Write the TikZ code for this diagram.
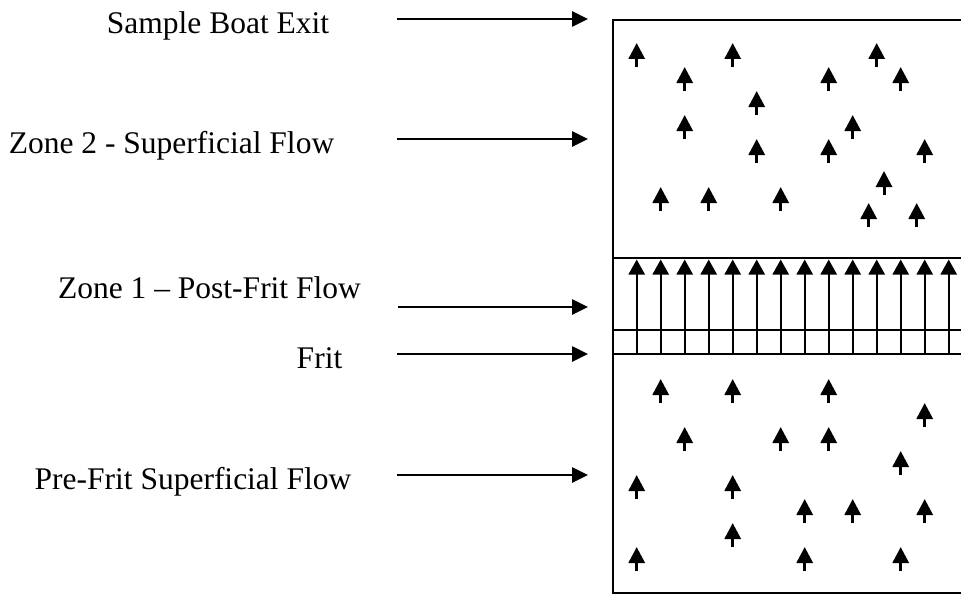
\documentclass[tikz,border=0pt]{standalone}
\usepackage{fontspec}
\setmainfont{Liberation Serif}
\usetikzlibrary{arrows.meta}

\begin{document}
\begin{tikzpicture}[x=1pt,y=-1pt,
  lbl/.style={font=\fontsize{31.5}{36}\selectfont, anchor=base, inner sep=0pt},
  pointer/.style={line width=2.6pt, -{Triangle[length=16pt,width=15pt]}},
  flowarrow/.style={line width=3pt, -{Triangle[length=16pt,width=16pt]}},
  frit/.style={line width=2.4pt, -{Triangle[length=15pt,width=16pt]}},
  wall/.style={line width=2.6pt}]

% page frame
\useasboundingbox (0,0) rectangle (961,594);

% column outline (open on the right)
\coordinate (tr) at (966,20);
\coordinate (tl) at (613,20);
\coordinate (bl) at (613,593);
\coordinate (br) at (966,593);
\draw[wall] (tr) -- (tl) -- (bl) -- (br);

% zone 1 and frit boundaries
\coordinate (z1l) at (613,258);  \coordinate (z1r) at (966,258);
\coordinate (fal) at (613,330);  \coordinate (far) at (966,330);
\coordinate (fbl) at (613,354);  \coordinate (fbr) at (966,354);
\draw[wall] (z1l) -- (z1r);
\draw[wall] (fal) -- (far);
\draw[wall] (fbl) -- (fbr);

% uniform flow through the frit into zone 1
\foreach \k in {0,...,13} {
  \coordinate (fs\k) at ({636.7+24*\k},354);
  \coordinate (fe\k) at ({636.7+24*\k},259.5);
  \draw[frit] (fs\k) -- (fe\k);
}

% scattered superficial flow, zone 2 and pre-frit region
\foreach \x/\y [count=\i] in {
  636.7/43, 732.7/43, 876.7/43,
  684.7/67, 828.7/67, 900.7/67,
  756.7/91,
  684.7/115, 852.7/115,
  756.7/139, 828.7/139, 924.7/139,
  884/171,
  660.7/187, 708.7/187, 780.7/187,
  868.7/203, 916.7/203,
  660.7/379, 732.7/379, 828.7/379,
  924.7/403,
  684.7/427, 780.7/427, 828.7/427,
  900.7/451,
  636.7/475, 732.7/475,
  804.7/499, 852.7/499, 924.7/499,
  732.7/523,
  636.7/547, 804.7/547, 900.7/547} {
  \coordinate (ss\i) at (\x,\y+24);
  \coordinate (se\i) at (\x,\y);
  \draw[flowarrow] (ss\i) -- (se\i);
}

% labels
\node[lbl] (exit)   at (218,34)  {Sample Boat Exit};
\node[lbl] (zone2)  at (171.5,153) {Zone 2 - Superficial Flow};
\node[lbl] (zone1)  at (209.5,298) {Zone 1 – Post-Frit Flow};
\node[lbl] (fritl)  at (319.5,368) {Frit};
\node[lbl] (prefrit) at (193,489) {Pre-Frit Superficial Flow};

% label pointers
\coordinate (a1s) at (397,19);  \coordinate (a1e) at (588,19);
\coordinate (a2s) at (397,139); \coordinate (a2e) at (588,139);
\coordinate (a3s) at (398,307); \coordinate (a3e) at (588,307);
\coordinate (a4s) at (397,354); \coordinate (a4e) at (588,354);
\coordinate (a5s) at (397,475); \coordinate (a5e) at (588,475);
\draw[pointer] (a1s) -- (a1e);
\draw[pointer] (a2s) -- (a2e);
\draw[pointer] (a3s) -- (a3e);
\draw[pointer] (a4s) -- (a4e);
\draw[pointer] (a5s) -- (a5e);

\end{tikzpicture}
\end{document}
